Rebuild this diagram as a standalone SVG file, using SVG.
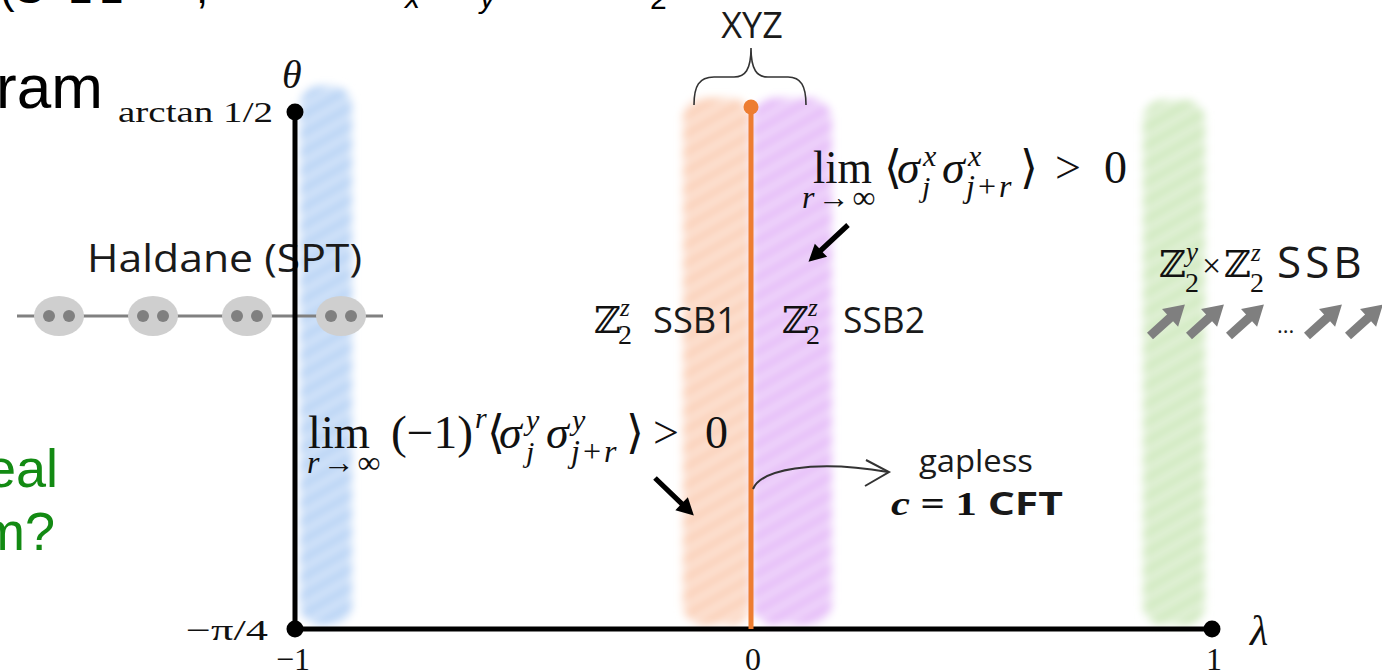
<svg xmlns="http://www.w3.org/2000/svg" width="1382" height="672" viewBox="0 0 1382 672">
<defs>
<style>
.sans{font-family:"Open Sans","Liberation Sans",sans-serif;fill:#1a1a1a}
.arial{font-family:"Liberation Sans",Arial,sans-serif}
.serif{font-family:"Liberation Serif","DejaVu Serif",serif;fill:#111}
.it{font-style:italic}
.bb{font-family:"DejaVu Serif",serif;fill:#111}
.ax{stroke:#000;stroke-width:5;fill:none}
.band{filter:url(#blur)}
</style>
<filter id="blur" x="-40%" y="-10%" width="180%" height="120%"><feGaussianBlur stdDeviation="4"/></filter>
<pattern id="hatch" width="30" height="16" patternUnits="userSpaceOnUse" patternTransform="rotate(-30)">
<rect width="30" height="7" fill="#fff" opacity="0.45"/>
</pattern>
<path id="blkArrow" d="M0,-2.6 L37,-2.6 L37,-9 L54,0 L37,9 L37,2.6 L0,2.6 Z" fill="#000"/>
<path id="grayArrow" d="M0,-4.5 L27,-4.5 L27,-12 L47,0 L27,12 L27,4.5 L0,4.5 Z" fill="#7f7f7f"/>
</defs>
<rect width="1382" height="672" fill="#fff"/>

<g id="slide-text">
<text class="arial" x="0" y="3" font-size="44" fill="#000">(S</text>
<text class="arial" x="68" y="3" font-size="44" fill="#000">1</text>
<text class="arial" x="99" y="3" font-size="44" fill="#000">1</text>
<text class="arial" x="196" y="3" font-size="44" fill="#000">,</text>
<text class="arial" x="405" y="8" font-size="30" font-style="italic" fill="#000">x</text>
<text class="arial" x="480" y="8" font-size="30" font-style="italic" fill="#000">y</text>
<text class="arial" x="650" y="9" font-size="30" fill="#000">2</text>
<text class="arial" x="-4" y="108" font-size="62" fill="#000">ram</text>
<text class="arial" x="-14" y="487" font-size="54" fill="#138a13">eal</text>
<text class="arial" x="-20" y="550" font-size="54" fill="#138a13">m?</text>
</g>

<g id="bands">
<g id="band-blue" class="band">
<rect x="300" y="86" width="52" height="539" rx="20" fill="#b8d3f5"/>
<rect x="300" y="86" width="52" height="539" fill="url(#hatch)"/>
</g>
<g id="band-orange" class="band">
<rect x="683" y="98" width="67" height="527" rx="20" fill="#fbd0b8"/>
<rect x="683" y="98" width="67" height="527" fill="url(#hatch)"/>
</g>
<g id="band-purple" class="band">
<rect x="752" y="98" width="80" height="527" rx="22" fill="#e5bcf8"/>
<rect x="752" y="98" width="80" height="527" fill="url(#hatch)"/>
</g>
<g id="band-green" class="band">
<rect x="1143" y="100" width="62" height="525" rx="20" fill="#d0e9bf"/>
<rect x="1143" y="100" width="62" height="525" fill="url(#hatch)"/>
</g>
</g>

<g id="haldane-chain">
<line x1="17" y1="316" x2="383" y2="316" stroke="#808080" stroke-width="3"/>
<g fill="#cfcfcf">
<ellipse cx="59" cy="316" rx="25" ry="20"/>
<ellipse cx="153" cy="316" rx="25" ry="20"/>
<ellipse cx="247" cy="316" rx="25" ry="20"/>
<ellipse cx="341" cy="316" rx="25" ry="20"/>
</g>
<g fill="#808080">
<circle cx="49" cy="316" r="6"/><circle cx="69" cy="316" r="6"/>
<circle cx="143" cy="316" r="6"/><circle cx="163" cy="316" r="6"/>
<circle cx="237" cy="316" r="6"/><circle cx="257" cy="316" r="6"/>
<circle cx="331" cy="316" r="6"/><circle cx="351" cy="316" r="6"/>
</g>
</g>

<g id="haldane-label">
<text class="sans" x="87" y="272" font-size="38" textLength="275" lengthAdjust="spacingAndGlyphs" fill="#222">Haldane (SPT)</text>
</g>

<g id="axes">
<line class="ax" x1="295" y1="112" x2="295" y2="629"/>
<line class="ax" x1="295" y1="629" x2="1212" y2="629"/>
<circle cx="295" cy="112" r="8.5" fill="#000"/>
<circle cx="295" cy="629" r="8.5" fill="#000"/>
<circle cx="1212" cy="629" r="8.5" fill="#000"/>
<text class="serif it" x="282" y="88" font-size="40">θ</text>
<text class="serif" x="118" y="122" font-size="29" textLength="155" lengthAdjust="spacingAndGlyphs">arctan 1/2</text>
<text class="serif" x="186" y="640" font-size="30" textLength="82" lengthAdjust="spacingAndGlyphs">−π/4</text>
<text class="serif" x="293" y="670" font-size="32" text-anchor="middle">−1</text>
<text class="serif" x="753" y="670" font-size="32" text-anchor="middle">0</text>
<text class="serif" x="1214" y="670" font-size="32" text-anchor="middle">1</text>
<text class="serif it" x="1250" y="645" font-size="42">λ</text>
</g>

<g id="xyz-line">
<line x1="751" y1="107" x2="751" y2="629" stroke="#ed7d31" stroke-width="5"/>
<circle cx="751" cy="107" r="7.5" fill="#ed7d31"/>
</g>

<g id="xyz-label">
<path d="M694,105 C694,86 699,77 714,77 L734,77 C745,77 751,70 751,48 C751,70 757,77 768,77 L788,77 C801,77 806,86 806,105" fill="none" stroke="#333" stroke-width="1.6"/>
<text class="sans" x="752" y="38" font-size="36" text-anchor="middle">XYZ</text>
</g>

<g id="ssb1">
<text class="bb" x="594" y="333" font-size="37">ℤ</text>
<text class="serif it" x="620" y="316" font-size="25">z</text>
<text class="serif" x="618" y="344" font-size="28">2</text>
<text class="sans" x="653" y="333" font-size="37" textLength="84" lengthAdjust="spacingAndGlyphs">SSB1</text>
</g>

<g id="ssb2">
<text class="bb" x="782" y="333" font-size="37">ℤ</text>
<text class="serif it" x="808" y="316" font-size="25">z</text>
<text class="serif" x="806" y="344" font-size="28">2</text>
<text class="sans" x="843" y="333" font-size="37" textLength="82" lengthAdjust="spacingAndGlyphs">SSB2</text>
</g>

<g id="ssb-yz">
<text class="bb" x="1159" y="277" font-size="37">ℤ</text>
<text class="serif it" x="1186" y="261" font-size="27">y</text>
<text class="serif" x="1185" y="292" font-size="28">2</text>
<text class="serif" x="1202" y="277" font-size="34">×</text>
<text class="bb" x="1224" y="277" font-size="37">ℤ</text>
<text class="serif it" x="1251" y="261" font-size="25">z</text>
<text class="serif" x="1250" y="292" font-size="28">2</text>
<text class="sans" x="1277" y="278" font-size="44" letter-spacing="4">SSB</text>
<use href="#grayArrow" transform="translate(1150,336) rotate(-42)"/>
<use href="#grayArrow" transform="translate(1189,336) rotate(-42)"/>
<use href="#grayArrow" transform="translate(1229,336) rotate(-42)"/>
<text class="sans" x="1277" y="333" font-size="22" fill="#555">...</text>
<use href="#grayArrow" transform="translate(1307,336) rotate(-42)"/>
<use href="#grayArrow" transform="translate(1348,336) rotate(-42)"/>
</g>

<g id="formula-x" class="serif" font-size="46">
<text x="813" y="183" textLength="59" lengthAdjust="spacingAndGlyphs">lim</text>
<text x="802" y="208" font-size="32" letter-spacing="3"><tspan class="it">r</tspan>→∞</text>
<text x="884" y="183">⟨</text>
<text x="897" y="183" class="it">σ</text>
<text x="923" y="166" font-size="30" class="it">x</text>
<text x="922" y="197" font-size="30" class="it">j</text>
<text x="942" y="183" class="it">σ</text>
<text x="968" y="166" font-size="30" class="it">x</text>
<text x="966" y="197" font-size="32" letter-spacing="3"><tspan class="it">j</tspan>+<tspan class="it">r</tspan></text>
<text x="1020" y="183">⟩</text>
<text x="1055" y="183">&gt;</text>
<text x="1104" y="183">0</text>
</g>

<g id="formula-y" class="serif" font-size="46">
<text x="308" y="448" textLength="62" lengthAdjust="spacingAndGlyphs">lim</text>
<text x="307" y="473" font-size="32" letter-spacing="3"><tspan class="it">r</tspan>→∞</text>
<text x="391" y="448" textLength="82" lengthAdjust="spacingAndGlyphs">(−1)</text>
<text x="475" y="428" font-size="30" class="it">r</text>
<text x="487" y="448">⟨</text>
<text x="499" y="448" class="it">σ</text>
<text x="526" y="430" font-size="30" class="it">y</text>
<text x="526" y="462" font-size="30" class="it">j</text>
<text x="546" y="448" class="it">σ</text>
<text x="572" y="430" font-size="30" class="it">y</text>
<text x="571" y="462" font-size="32" letter-spacing="3"><tspan class="it">j</tspan>+<tspan class="it">r</tspan></text>
<text x="626" y="448">⟩</text>
<text x="653" y="448">&gt;</text>
<text x="705" y="448">0</text>
</g>

<g id="cft-label">
<text class="sans" x="919" y="472" font-size="31" textLength="114" lengthAdjust="spacingAndGlyphs">gapless</text>
<text x="891" y="515" font-size="33" font-weight="bold" textLength="172" lengthAdjust="spacingAndGlyphs"><tspan class="serif it">c</tspan><tspan class="serif"> = 1 </tspan><tspan class="sans">CFT</tspan></text>
</g>

<g id="connectors">
<use href="#blkArrow" transform="translate(848,225) rotate(137)"/>
<use href="#blkArrow" transform="translate(655,478) rotate(44)"/>
<path d="M753,489 C761,470 812,459 888,472" fill="none" stroke="#333" stroke-width="2"/>
<path d="M866,460 L889,472 L865,486" fill="none" stroke="#333" stroke-width="2"/>
</g>
</svg>
